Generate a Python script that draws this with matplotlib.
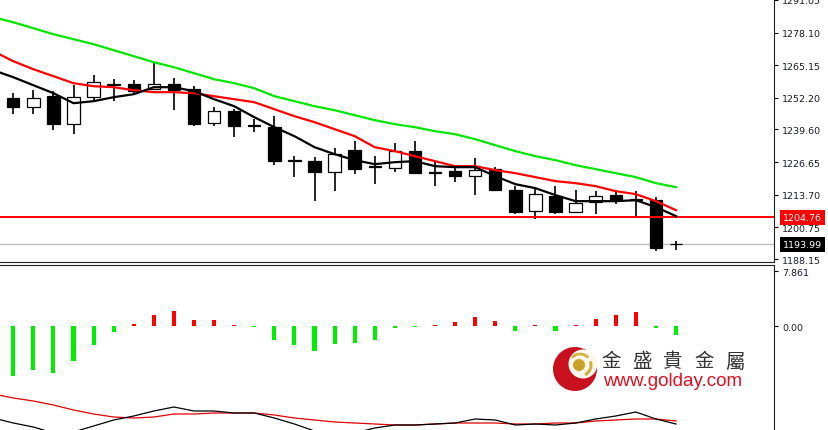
import numpy as np
import matplotlib
matplotlib.use("Agg")
import matplotlib.pyplot as plt
from matplotlib.patches import Ellipse, Arc

# candle data (oldest -> newest)
opens = [1252.03, 1248.46, 1252.82, 1241.71, 1252.42, 1257.19, 1257.58, 1255.80,
         1257.78, 1255.60, 1242.31, 1247.07, 1241.11, 1240.52, 1227.23, 1227.03,
         1222.66, 1231.39, 1225.04, 1224.25, 1231.00, 1222.66, 1223.26, 1221.27,
         1223.85, 1215.52, 1207.39, 1213.14, 1206.99, 1210.76, 1213.74, 1211.75,
         1211.55, 1194.10]
highs = [1254.01, 1255.20, 1254.80, 1257.19, 1261.15, 1259.57, 1259.17, 1266.31,
         1259.96, 1256.79, 1248.46, 1247.66, 1243.69, 1244.88, 1229.01, 1228.62,
         1232.19, 1234.96, 1229.01, 1234.17, 1234.96, 1226.63, 1224.25, 1228.22,
         1224.65, 1217.31, 1216.31, 1217.11, 1215.52, 1215.12, 1214.93, 1215.32,
         1212.74, 1195.40]
lows = [1245.68, 1245.68, 1239.33, 1237.74, 1250.44, 1250.84, 1254.01, 1255.20,
        1247.27, 1240.92, 1240.92, 1236.55, 1238.54, 1225.64, 1220.68, 1211.35,
        1215.32, 1221.87, 1217.90, 1222.86, 1221.87, 1217.11, 1218.70, 1213.54,
        1215.12, 1206.00, 1204.01, 1206.00, 1206.79, 1206.00, 1209.97, 1204.81,
        1191.31, 1191.90]
closes = [1248.46, 1252.03, 1241.71, 1252.42, 1258.38, 1257.38, 1255.00, 1257.58,
          1255.20, 1241.71, 1246.87, 1240.92, 1240.92, 1227.23, 1227.03, 1222.66,
          1229.81, 1224.05, 1224.65, 1231.00, 1222.27, 1222.47, 1221.08, 1223.46,
          1215.52, 1206.99, 1214.13, 1206.79, 1210.36, 1213.14, 1211.95, 1211.55,
          1192.71, 1193.99]

# moving averages, first value belongs to the bar before the first visible one
ma_fast = [1263.14, 1260.36, 1257.18, 1254.01, 1250.04, 1250.84, 1252.42, 1253.61,
           1256.39, 1256.39, 1254.80, 1251.63, 1248.85, 1244.49, 1240.52, 1236.95,
           1232.58, 1229.81, 1227.43, 1225.84, 1226.63, 1227.03, 1225.04, 1224.65,
           1224.65, 1221.08, 1217.90, 1216.31, 1213.54, 1211.15, 1211.15, 1211.15,
           1211.55, 1208.78, 1205.20]
ma_mid = [1270.68, 1266.71, 1263.53, 1260.76, 1257.98, 1256.79, 1256.39, 1255.20,
          1254.41, 1254.41, 1254.01, 1252.82, 1251.63, 1250.44, 1247.66, 1244.88,
          1242.50, 1239.73, 1236.95, 1232.58, 1231.00, 1229.01, 1227.03, 1225.04,
          1225.04, 1223.46, 1222.27, 1220.68, 1219.09, 1218.30, 1217.11, 1215.12,
          1213.93, 1211.15, 1207.58]
ma_slow = [1284.17, 1282.18, 1279.80, 1277.42, 1275.44, 1273.45, 1271.07, 1268.69,
           1266.31, 1264.33, 1261.95, 1259.57, 1257.98, 1256.00, 1252.82, 1250.84,
           1248.85, 1247.27, 1245.28, 1243.30, 1241.71, 1240.52, 1238.93, 1237.74,
           1235.76, 1233.38, 1231.00, 1229.01, 1227.43, 1225.44, 1223.85, 1222.27,
           1220.68, 1218.30, 1216.71]

price_ticks = [1291.05, 1278.10, 1265.15, 1252.20, 1239.60, 1226.65, 1213.70, 1200.75, 1188.15]
level_line = 1204.76
last_price = 1193.99

# lower indicator: histogram + two lines
hist = [-7.11, -6.21, -6.68, -4.98, -2.66, -0.75, 0.33, 1.66, 2.13, 0.95, 0.90, 0.18,
        -0.10, -1.95, -2.66, -3.46, -2.46, -2.32, -1.95, -0.24, -0.14, 0.10, 0.67, 1.28,
        0.81, -0.61, 0.10, -0.61, 0.10, 1.04, 1.66, 2.09, -0.21, -1.24]
osc_main = [12, 7, 3, -3, -2, 4, 10, 14, 19, 23, 19, 19, 17, 17, 12, 6, -1, -5, -3, 2,
            5, 5, 6, 7, 11, 10, 5, 6, 5, 7, 11, 14, 18, 11, 6]
osc_signal = [36, 32, 29, 25, 20, 16, 13, 12, 13, 16, 16, 17, 17, 17, 15, 12, 10, 8, 7,
              6, 5, 5, 6, 7, 7, 7, 6, 6, 7, 7, 9, 10, 11, 11, 9]

n = len(opens)
x = np.arange(n)
xm = np.arange(-1, n)

fig = plt.figure(figsize=(8.29, 4.31), dpi=100)
W, H = 829.0, 431.0
right = 774 / W

ax = fig.add_axes([0, 1 - 263 / H, right, 263 / H])
ax2 = fig.add_axes([0, 0, right, 1 - 266 / H], sharex=ax)
ax3 = fig.add_axes(ax2.get_position(), frameon=False, sharex=ax2)

# candles
o = np.array(opens)
c = np.array(closes)
bull = c >= o
ax.vlines(x, lows, highs, color='black', lw=1.2, zorder=2)
body_h = np.maximum(np.abs(c - o), 0.3)
ax.bar(x, body_h, bottom=np.minimum(o, c), width=0.62,
       color=np.where(bull, 'white', 'black'), edgecolor='black', lw=0.9, zorder=3)

ax.axhline(last_price, color='#c0c0c0', lw=1, zorder=1)
ax.axhline(level_line, color='#ff0000', lw=1.4, zorder=4)

ax.plot(xm, ma_slow, color='#00e600', lw=1.6, zorder=5)
ax.plot(xm, ma_mid, color='#ff0000', lw=1.6, zorder=5)
ax.plot(xm, ma_fast, color='black', lw=1.6, zorder=5)

ax.set_xlim(-0.66, 37.88)
ax.set_ylim(1187.0, 1291.4)
ax.yaxis.tick_right()
ax.set_yticks(price_ticks)
ax.set_yticklabels(['%.2f' % v for v in price_ticks])
ax.tick_params(axis='y', length=3, pad=3, labelsize=6.8, labelcolor='#1a1a30')
ax.tick_params(axis='x', bottom=False, labelbottom=False)
for s in ['top', 'left']:
    ax.spines[s].set_visible(False)
ax.spines['right'].set_color('#202020')
ax.spines['bottom'].set_color('#202020')

yt = ax.get_yaxis_transform()
ax.text(1.012, level_line, '%.2f' % level_line, transform=yt, va='center', ha='left',
        fontsize=6.8, color='white', clip_on=False,
        bbox=dict(boxstyle='square,pad=0.3', fc='#ff0000', ec='none'))
ax.text(1.012, last_price, '%.2f' % last_price, transform=yt, va='center', ha='left',
        fontsize=6.8, color='white', clip_on=False,
        bbox=dict(boxstyle='square,pad=0.3', fc='black', ec='none'))

# histogram
hv = np.array(hist)
hv = np.where(np.abs(hv) < 0.15, np.sign(hv) * 0.15, hv)
ax2.bar(x, hv, width=0.2, color=np.where(hv > 0, '#ff0000', '#00ee00'), lw=0)
ax2.set_ylim(-14.75, 8.72)
ax2.yaxis.tick_right()
ax2.set_yticks([7.861, 0.0])
ax2.set_yticklabels(['7.861', '0.00'])
ax2.tick_params(axis='y', length=3, pad=3, labelsize=6.8, labelcolor='#1a1a30')
ax2.tick_params(axis='x', bottom=False, labelbottom=False)
for s in ['bottom', 'left']:
    ax2.spines[s].set_visible(False)
ax2.spines['right'].set_color('#202020')
ax2.spines['top'].set_color('#202020')

ax3.plot(xm, osc_signal, color='#e00000', lw=0.9)
ax3.plot(xm, osc_main, color='black', lw=0.9)
ax3.set_ylim(0, 165)
ax3.axis('off')

# logo
def fx(px):
    return px / W

def fy(py):
    return 1 - py / H

fig.patches.append(Ellipse((fx(575), fy(370)), 44 / W, 44 / H, transform=fig.transFigure,
                           fc='#c8101e', ec='none', zorder=10))
fig.patches.append(Ellipse((fx(583), fy(365)), 29 / W, 29 / H, transform=fig.transFigure,
                           fc='#fdf8ee', ec='none', zorder=11))
fig.patches.append(Ellipse((fx(579), fy(366)), 12 / W, 12 / H, transform=fig.transFigure,
                           fc='#c9a227', ec='none', zorder=12))
fig.patches.append(Arc((fx(580), fy(366)), 22 / W, 22 / H, theta1=-75, theta2=35,
                       transform=fig.transFigure, color='#d4b040', lw=2.2, zorder=12))
fig.patches.append(Arc((fx(580), fy(366)), 22 / W, 22 / H, theta1=60, theta2=120,
                       transform=fig.transFigure, color='#d4b040', lw=2.0, zorder=12))

logo_chars = ['金', '盛', '貴', '金', '屬']
for i, ch in enumerate(logo_chars):
    fig.text(fx(611 + 31 * i), fy(362), ch, ha='center', va='center', fontsize=14,
             color='#333333', family=['Noto Sans CJK TC', 'DejaVu Sans'])
fig.text(fx(603), fy(382), 'www.golday.com', ha='left', va='center', fontsize=13.5,
         color='#e0101e', family=['Liberation Sans', 'DejaVu Sans'])

fig.savefig('out.png', dpi=100)
